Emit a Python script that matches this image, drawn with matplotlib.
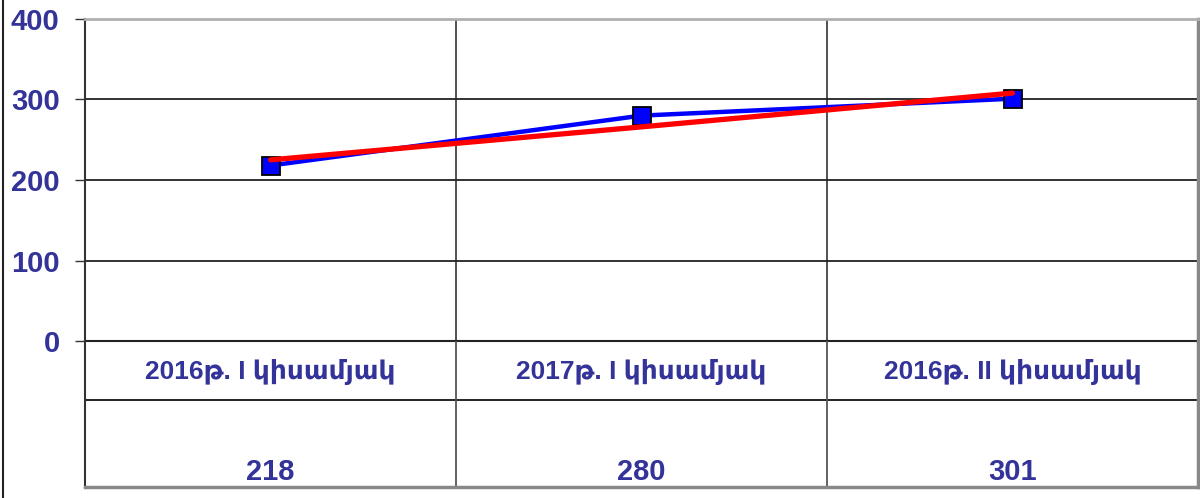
import matplotlib
matplotlib.use("Agg")
import matplotlib.pyplot as plt
from matplotlib.lines import Line2D

categories = ["2016թ. I կիսամյակ", "2017թ. I կիսամյակ", "2016թ. II կիսամյակ"]
values = [218, 280, 301]
trend = [225, 266, 308]
yticks = [0, 100, 200, 300, 400]

W, H = 1200, 498
txt_color = "#333399"
FAM = ["Liberation Sans", "DejaVu Sans"]
fig = plt.figure(figsize=(W / 100, H / 100), dpi=100)
fig.patch.set_facecolor("white")

def fx(px):
    return px / W

def fy(py):
    return (H - py) / H

left, right, top, zero, bottom = 85, 1198, 19, 341, 487
ax = fig.add_axes([fx(left), fy(zero), fx(right - left), fy(top) - fy(zero)])
xs = list(range(len(categories)))
ax.set_xlim(-0.5, len(categories) - 0.5)
ax.set_ylim(0, 400)
ax.set_yticks(yticks)
ax.set_yticklabels([str(v) for v in yticks], fontsize=21, fontweight="bold",
                   color=txt_color, family=FAM)
ax.tick_params(axis="y", length=7.2, width=1, color="#333333", pad=11)
ax.set_xticks([])
for v in yticks[1:-1]:
    ax.axhline(v, color="#222222", lw=1.3, zorder=1)
for b in [0.5, 1.5]:
    ax.axvline(b, color="#222222", lw=1.1, zorder=1)
ax.spines["top"].set_color("#b0b0b0")
ax.spines["top"].set_linewidth(2)
ax.spines["right"].set_color("#888888")
ax.spines["right"].set_linewidth(2.5)
ax.spines["left"].set_color("#333333")
ax.spines["left"].set_linewidth(1.5)
ax.spines["bottom"].set_color("#222222")
ax.spines["bottom"].set_linewidth(1.5)

ax.plot(xs, values, color="#0000ff", lw=3.2, marker="s", markersize=12.5,
        markerfacecolor="#0000ff", markeredgecolor="black", markeredgewidth=1.3,
        zorder=3, clip_on=False)
ax.plot(xs, trend, color="#ff0000", lw=3.8, solid_capstyle="round", zorder=4,
        clip_on=False)

# data table
tab = fig.add_axes([fx(left), fy(bottom), fx(right - left), fy(zero) - fy(bottom)])
tab.set_xlim(-0.5, len(categories) - 0.5)
tab.set_ylim(0, 1)
tab.set_xticks([])
tab.set_yticks([])
tab.patch.set_alpha(0)
tab.spines["top"].set_visible(False)
tab.spines["left"].set_color("#333333")
tab.spines["left"].set_linewidth(1.5)
tab.spines["right"].set_color("#888888")
tab.spines["right"].set_linewidth(2.5)
tab.spines["bottom"].set_color("#888888")
tab.spines["bottom"].set_linewidth(2.5)
sep = (bottom - 400) / (bottom - zero)
tab.axhline(sep, color="#111111", lw=1.3)
for b in [0.5, 1.5]:
    tab.axvline(b, color="#555555", lw=1.3)
lab_y = (bottom - 371) / (bottom - zero)
val_y = (bottom - 472) / (bottom - zero)
for x, c, v in zip(xs, categories, values):
    tab.text(x, lab_y, c, ha="center", va="center", fontsize=19,
             fontweight="bold", color=txt_color, family=FAM)
    tab.text(x, val_y, str(v), ha="center", va="center", fontsize=21,
             fontweight="bold", color=txt_color, family=FAM)

fig.add_artist(Line2D([fx(3), fx(3)], [0, 1], color="#222222", lw=1.5,
                      transform=fig.transFigure))

fig.savefig("out.png", dpi=100)
